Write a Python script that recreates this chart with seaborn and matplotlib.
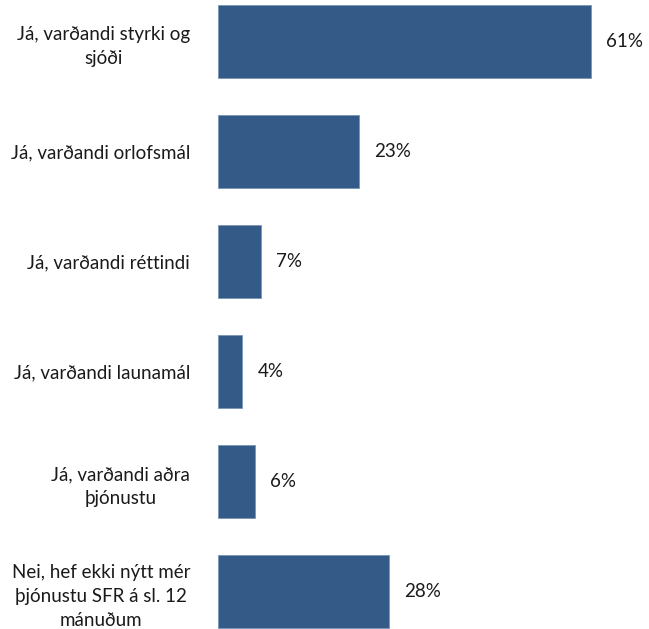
import pandas as pd
import matplotlib
matplotlib.use("Agg")
import matplotlib.pyplot as plt
import seaborn as sns

categories = [
    "Já, varðandi styrki og\nsjóði",
    "Já, varðandi orlofsmál",
    "Já, varðandi réttindi",
    "Já, varðandi launamál",
    "Já, varðandi aðra\nþjónustu",
    "Nei, hef ekki nýtt mér\nþjónustu SFR á sl. 12\nmánuðum",
]
values = [61, 23, 7, 4, 6, 28]

df = pd.DataFrame({"svar": categories, "hlutfall": values})

sns.set_style("white")
plt.rcParams["font.family"] = ["Lato", "DejaVu Sans"]

fig = plt.figure(figsize=(6.49, 6.29), dpi=100)
ax = fig.add_axes([218 / 649, 0, 425 / 649, 1])

sns.barplot(data=df, x="hlutfall", y="svar", orient="h", color="#345A87",
            saturation=1, width=0.66, edgecolor="#7a95b8", linewidth=0.6, ax=ax)

ax.bar_label(ax.containers[0], fmt="%.0f%%", padding=11, fontsize=13.5, color="#1a1a1a")

ax.set_xlim(0, 69.5)
ax.set_ylim(5.341, -0.377)
ax.set_xlabel("")
ax.set_ylabel("")
ax.set_xticks([])
ax.tick_params(axis="y", length=0, pad=20, labelsize=13.5, labelcolor="#1a1a1a")
for lbl in ax.get_yticklabels():
    lbl.set_multialignment("center")
    lbl.set_linespacing(1.5)
sns.despine(ax=ax, left=True, bottom=True)

fig.savefig("out.png", dpi=100)
